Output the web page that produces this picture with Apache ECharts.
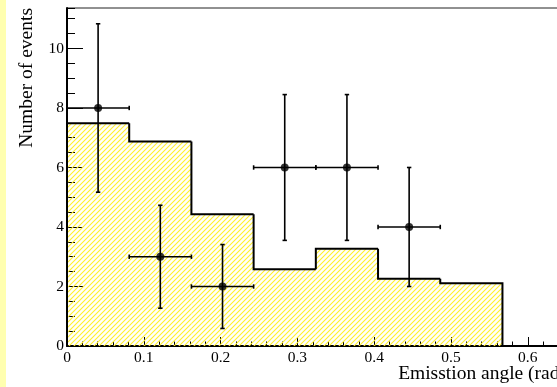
<!DOCTYPE html>
<html>
<head>
<meta charset="utf-8">
<script src="https://cdn.jsdelivr.net/npm/echarts@6/dist/echarts.min.js"></script>
<style>
html,body{margin:0;padding:0;background:#fff;}
#chart{width:557px;height:387px;}
</style>
</head>
<body>
<div id="chart"></div>
<script>
// ---- data ----
const binEdges   = [0, 0.081, 0.162, 0.243, 0.324, 0.405, 0.486, 0.567];
const histValues = [7.49, 6.87, 4.43, 2.58, 3.27, 2.26, 2.11];
const pointX     = [0.0405, 0.1215, 0.2025, 0.2835, 0.3645, 0.4455];
const pointY     = [8, 3, 2, 6, 6, 4];
const pointXErr  = [0.0405, 0.0405, 0.0405, 0.0405, 0.0405, 0.0405];
const pointYErr  = [2.83, 1.73, 1.41, 2.45, 2.45, 2.0];
const xTitle = 'Emisstion angle (rad)';
const yTitle = 'Number of events';

const FONT = 'Liberation Serif';

function makeHatch() {
  const s = 5;
  const c = document.createElement('canvas');
  c.width = s; c.height = s;
  const g = c.getContext('2d');
  g.strokeStyle = '#fff030';
  g.lineWidth = 1.1;
  g.beginPath();
  g.moveTo(0, s); g.lineTo(s, 0);
  g.moveTo(-1, 1); g.lineTo(1, -1);
  g.moveTo(s - 1, s + 1); g.lineTo(s + 1, s - 1);
  g.stroke();
  return c;
}
const hatch = makeHatch();

const histData = histValues.map((v, i) => [binEdges[i], binEdges[i + 1], v, i ? histValues[i - 1] : 0, i === histValues.length - 1 ? 1 : 0]);
const errData = pointX.map((x, i) => [x, pointY[i], pointXErr[i], pointYErr[i]]);
const ptData = pointX.map((x, i) => [x, pointY[i]]);

const chart = echarts.init(document.getElementById('chart'), null, {renderer: 'canvas'});

const labelStyle = {fontFamily: FONT, fontSize: 15.5, color: '#000'};

chart.setOption({
  animation: false,
  backgroundColor: '#fff',
  grid: {left: 67, top: 8, width: 499.2, height: 338, show: true, borderColor: '#222', borderWidth: 1,
         backgroundColor: 'transparent', containLabel: false, outerBoundsMode: 'none'},
  xAxis: [
    {type: 'value', min: 0, max: 0.65, interval: 0.1, position: 'bottom',
     axisLine: {show: true, lineStyle: {color: '#000', width: 2}},
     axisTick: {show: true, inside: true, length: 9, lineStyle: {color: '#000', width: 1}},
     axisLabel: Object.assign({margin: 4, showMaxLabel: false, hideOverlap: false, formatter: v => v === 0 ? '0' : (+v).toFixed(1)}, labelStyle),
     splitLine: {show: false}},
    {type: 'value', min: 0, max: 0.65, interval: 0.02, position: 'bottom',
     axisLine: {show: false},
     axisTick: {show: true, inside: true, length: 4.5, lineStyle: {color: '#000', width: 1}},
     axisLabel: {show: false}, splitLine: {show: false}}
  ],
  yAxis: [
    {type: 'value', min: 0, max: 11.36, interval: 2, position: 'left',
     axisLine: {show: true, lineStyle: {color: '#000', width: 2}},
     axisTick: {show: true, inside: true, length: 16, lineStyle: {color: '#000', width: 1}},
     axisLabel: Object.assign({margin: 3, showMaxLabel: false, formatter: v => String(Math.round(v))}, labelStyle),
     splitLine: {show: false}},
    {type: 'value', min: 0, max: 11.36, interval: 0.5, position: 'left',
     axisLine: {show: false},
     axisTick: {show: true, inside: true, length: 8, lineStyle: {color: '#000', width: 1}},
     axisLabel: {show: false}, splitLine: {show: false}}
  ],
  graphic: [
    {type: 'rect', left: 0, top: 0, shape: {width: 6, height: 387}, style: {fill: '#ffffb0'}, z: 0},
    {type: 'text', x: 26.4, y: 8, rotation: Math.PI / 2,
     style: {text: yTitle, font: '19.5px "Liberation Serif"', fill: '#000', align: 'right', verticalAlign: 'middle'}},
    {type: 'text', x: 566, y: 373.4,
     style: {text: xTitle, font: '19.5px "Liberation Serif"', fill: '#000', align: 'right', verticalAlign: 'middle'}}
  ],
  series: [
    {type: 'custom', xAxisIndex: 0, yAxisIndex: 0, data: histData, z: 1,
     renderItem: (params, api) => {
       const p0 = api.coord([api.value(0), api.value(2)]);
       const p1 = api.coord([api.value(1), 0]);
       return {type: 'rect', shape: {x: p0[0], y: p0[1], width: p1[0] - p0[0], height: p1[1] - p0[1]},
               style: {fill: {image: hatch, repeat: 'repeat'}, stroke: null}};
     }},
    {type: 'custom', xAxisIndex: 0, yAxisIndex: 0, data: histData, z: 2,
     renderItem: (params, api) => {
       const x0 = api.value(0), x1 = api.value(1), h = api.value(2), prev = api.value(3), last = api.value(4);
       const pts = [api.coord([x0, prev]), api.coord([x0, h]), api.coord([x1, h])];
       if (last) pts.push(api.coord([x1, 0]));
       return {type: 'polyline', shape: {points: pts}, style: {stroke: '#000', lineWidth: 2, fill: null}};
     }},
    {type: 'custom', xAxisIndex: 0, yAxisIndex: 0, data: errData, z: 3,
     renderItem: (params, api) => {
       const x = api.value(0), y = api.value(1), ex = api.value(2), ey = api.value(3);
       const l = api.coord([x - ex, y]), r = api.coord([x + ex, y]);
       const t = api.coord([x, y + ey]), b = api.coord([x, y - ey]);
       const st = {stroke: '#000', lineWidth: 1.6};
       const c = 2.2;
       const line = (x1, y1, x2, y2) => ({type: 'line', shape: {x1, y1, x2, y2}, style: st});
       return {type: 'group', children: [
         line(l[0], l[1], r[0], r[1]),
         line(t[0], t[1], b[0], b[1]),
         line(l[0], l[1] - c, l[0], l[1] + c),
         line(r[0], r[1] - c, r[0], r[1] + c),
         line(t[0] - c, t[1], t[0] + c, t[1]),
         line(b[0] - c, b[1], b[0] + c, b[1])
       ]};
     }},
    {type: 'scatter', xAxisIndex: 0, yAxisIndex: 0, data: ptData, symbol: 'circle', symbolSize: 8,
     itemStyle: {color: '#000'}, z: 4}
  ]
});
</script>
</body>
</html>
